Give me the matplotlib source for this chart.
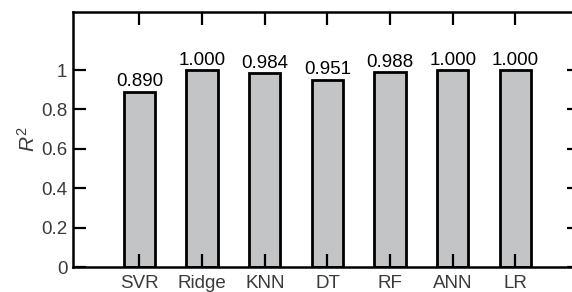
import numpy as np
import matplotlib.pyplot as plt

# model names and their R^2 scores
models = ['SVR', 'Ridge', 'KNN', 'DT', 'RF', 'ANN', 'LR']
r2_scores = [0.890, 1.000, 0.984, 0.951, 0.988, 1.000, 1.000]
y_ticks = [0, 0.2, 0.4, 0.6, 0.8, 1]
y_tick_labels = ['0', '0.2', '0.4', '0.6', '0.8', '1']

plt.rcParams['font.family'] = ['Liberation Sans', 'DejaVu Sans']
plt.rcParams['mathtext.fontset'] = 'custom'
plt.rcParams['mathtext.it'] = 'Liberation Sans:italic'
plt.rcParams['mathtext.rm'] = 'Liberation Sans'

fig = plt.figure(figsize=(5.72, 2.92), dpi=100)
ax = fig.add_axes([73 / 572, 25 / 292, 507 / 572, 255 / 292])

x = np.arange(1, len(models) + 1)
bars = ax.bar(x, r2_scores, width=0.5, color='#c3c4c6', edgecolor='black', linewidth=2.0)

for xi, v in zip(x, r2_scores):
    ax.text(xi, v + 0.008, '%.3f' % v, ha='center', va='bottom', fontsize=13.5, color='black')

ax.set_xlim(-0.06, 8.03)
ax.set_ylim(0, 1.295)
ax.set_xticks(x)
ax.set_xticklabels(models)
ax.set_yticks(y_ticks)
ax.set_yticklabels(y_tick_labels)
ax.tick_params(direction='in', length=9.5, width=1.6, top=True, right=True,
               labelsize=13.5, labelcolor='#3a3a3a', pad=4)
ax.tick_params(axis='x', pad=6)
for s in ax.spines.values():
    s.set_linewidth(1.8)

ax.set_ylabel('$R^2$', fontsize=15, color='#3a3a3a', labelpad=2)

fig.savefig('out.png', dpi=100)
